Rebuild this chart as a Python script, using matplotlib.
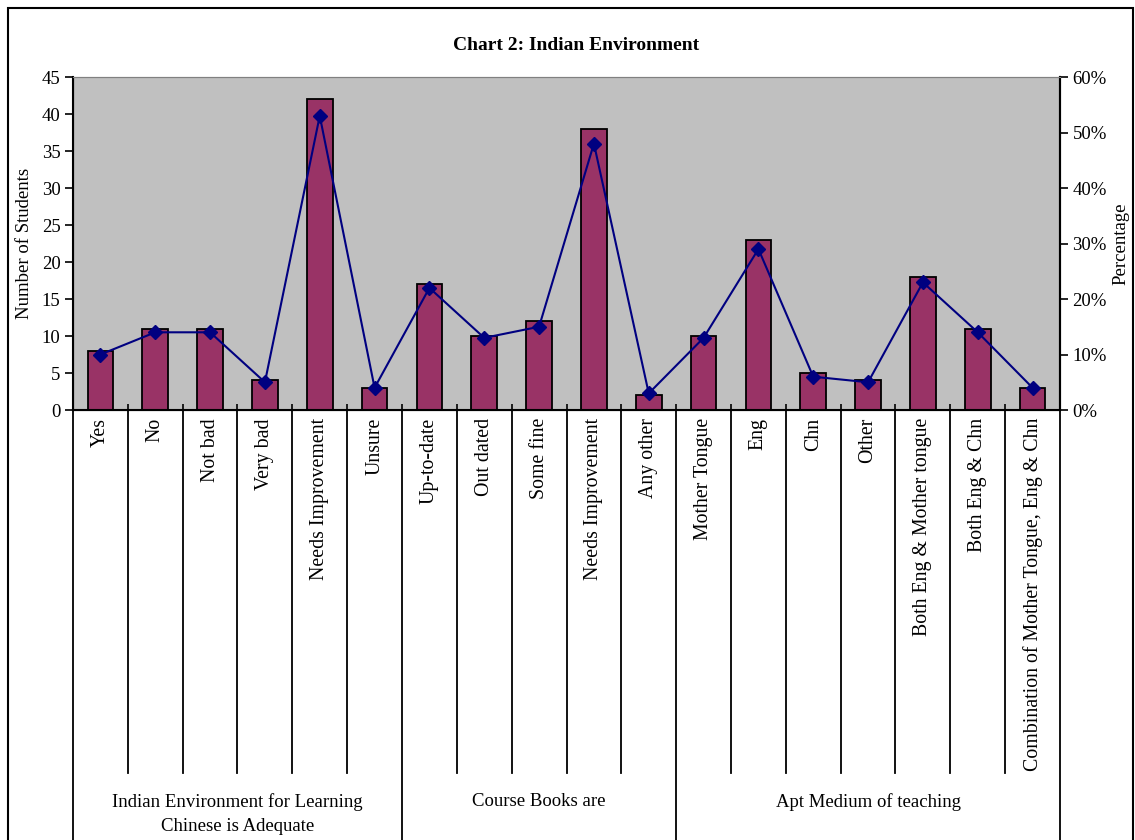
import matplotlib
matplotlib.use("Agg")
import matplotlib.pyplot as plt
import matplotlib.transforms as mtransforms
from matplotlib.ticker import PercentFormatter, MultipleLocator
from matplotlib.patches import Rectangle

categories = ["Yes", "No", "Not bad", "Very bad", "Needs Improvement", "Unsure",
              "Up-to-date", "Out dated", "Some fine", "Needs Improvement", "Any other",
              "Mother Tongue", "Eng", "Chn", "Other", "Both Eng & Mother tongue",
              "Both Eng & Chn", "Combination of Mother Tongue, Eng & Chn"]
students = [8, 11, 11, 4, 42, 3, 17, 10, 12, 38, 2, 10, 23, 5, 4, 18, 11, 3]
percentage = [10, 14, 14, 5, 53, 4, 22, 13, 15, 48, 3, 13, 29, 6, 5, 23, 14, 4]
groups = ["Indian Environment for Learning\nChinese is Adequate", "Course Books are",
          "Apt Medium of teaching"]
group_sizes = [6, 5, 7]

plt.rcParams['font.family'] = ['Liberation Serif', 'DejaVu Serif']
W, H = 1135, 840
fig = plt.figure(figsize=(W / 100, H / 100), dpi=100)
fig.patch.set_facecolor('white')

L, R, T, B = 73, 1060, 77, 410
ax = fig.add_axes([L / W, 1 - B / H, (R - L) / W, (B - T) / H])
ax.set_facecolor('#C0C0C0')
n = len(categories)
x = list(range(n))
ax.bar(x, students, width=0.47, color='#993366', edgecolor='black', linewidth=1.3, zorder=2)
ax.set_xlim(-0.5, n - 0.5)
ax.set_ylim(0, 45)
ax.yaxis.set_major_locator(MultipleLocator(5))
ax.tick_params(axis='y', direction='out', length=6, width=1.2, labelsize=13.5, pad=3)
ax.set_xticks([i - 0.5 for i in range(n + 1)])
ax.set_xticklabels([])
ax.tick_params(axis='x', direction='in', length=4, width=1.2)
ax.spines['top'].set_color('#808080')
ax.spines['left'].set_linewidth(1.5)
ax.spines['bottom'].set_linewidth(1.5)
ax.spines['right'].set_linewidth(1.5)
ax.set_ylabel("Number of Students", fontsize=13.5, labelpad=6)

ax2 = ax.twinx()
ax2.plot(x, percentage, color='#000080', marker='D', markersize=7, linewidth=1.5, zorder=3)
ax2.set_ylim(0, 60)
ax2.yaxis.set_major_locator(MultipleLocator(10))
ax2.yaxis.set_major_formatter(PercentFormatter(decimals=0))
ax2.tick_params(axis='y', direction='out', length=6, width=1.2, labelsize=13.5, pad=3)
ax2.set_ylabel("Percentage", fontsize=13.5, labelpad=4)
ax2.spines['top'].set_color('#808080')
ax2.spines['right'].set_linewidth(1.5)

trans = mtransforms.blended_transform_factory(ax.transData, ax.transAxes)
ax_h = B - T
inner_bottom = (B - 773) / ax_h
outer_bottom = (B - 845) / ax_h

bounds = [0]
for s in group_sizes:
    bounds.append(bounds[-1] + s)
for i in range(n + 1):
    xb = i - 0.5
    yb = outer_bottom if i in bounds else inner_bottom
    ax.plot([xb, xb], [0, yb], color='black', linewidth=1.3, transform=trans, clip_on=False)

for i, lab in enumerate(categories):
    ax.text(i, (B - 418) / ax_h, lab, rotation=90, ha='center', va='top', fontsize=14.3,
            transform=trans)

start = 0
for g, s in zip(groups, group_sizes):
    cx = start + (s - 1) / 2
    ax.text(cx, (B - 793) / ax_h, g, ha='center', va='top', fontsize=13.5,
            linespacing=1.55, transform=trans)
    start += s

fig.text(576 / W, 1 - 46 / H, "Chart 2: Indian Environment", ha='center', va='center',
         fontsize=14, fontweight='bold')

fig.patches.append(Rectangle((8 / W, -0.05), (1133 - 8) / W, 1.05 - 8 / H,
                             transform=fig.transFigure, fill=False, edgecolor='black',
                             linewidth=1.5))

fig.savefig("out.png", dpi=100)
